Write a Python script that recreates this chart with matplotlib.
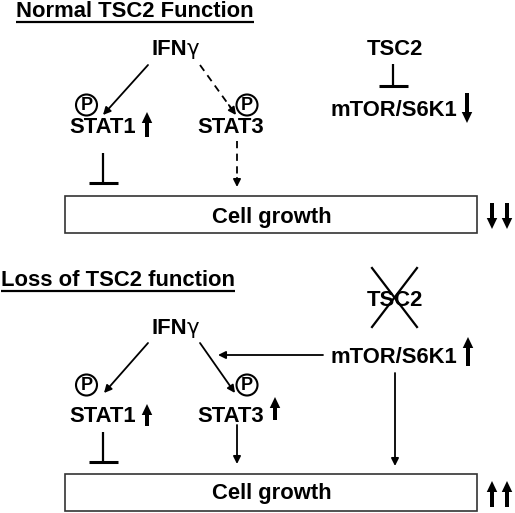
import matplotlib
matplotlib.use("Agg")
import matplotlib.pyplot as plt
from matplotlib.patches import Rectangle, Circle

# labels used in the diagram
section_titles = ["Normal TSC2 Function", "Loss of TSC2 function"]
stat_labels = ["STAT1", "STAT3"]
ligand = "IFN"
kinase = "mTOR/S6K1"
suppressor = "TSC2"
outcome = "Cell growth"
# +1 = up, -1 = down, 0 = none
top_changes = {"STAT1": 1, "STAT3": 0, "mTOR": -1, "growth": -1}
bottom_changes = {"STAT1": 1, "STAT3": 1, "mTOR": 1, "growth": 1}

FONT = "Liberation Sans"
FS = 15.8

fig = plt.figure(figsize=(5.15, 5.13), dpi=100)
ax = fig.add_axes([0, 0, 1, 1])
ax.set_xlim(0, 515)
ax.set_ylim(513, 0)
ax.axis("off")


def label(x, y, s, ha="center", size=FS, weight="bold"):
    ax.text(x, y, s, ha=ha, va="baseline", fontsize=size,
            fontweight=weight, family=FONT, color="black")


def thin_arrow(x0, y0, x1, y1, dashed=False):
    if dashed:
        # dashed shaft, solid head
        ax.plot([x0, x1 - (x1 - x0) * 0.12], [y0, y1 - (y1 - y0) * 0.12],
                color="black", lw=1.3, ls=(0, (4, 3)))
        xs = x1 - (x1 - x0) * 0.2
        ys = y1 - (y1 - y0) * 0.2
        ax.annotate("", xy=(x1, y1), xytext=(xs, ys),
                    arrowprops=dict(arrowstyle="-|>", color="black", lw=1.3,
                                    mutation_scale=11, shrinkA=0, shrinkB=0))
    else:
        ax.annotate("", xy=(x1, y1), xytext=(x0, y0),
                    arrowprops=dict(arrowstyle="-|>", color="black", lw=1.3,
                                    mutation_scale=11, shrinkA=0, shrinkB=0))


def thick_arrow(x, direction, y_top, y_bot):
    kw = dict(width=4.0, head_width=10.5, head_length=11,
              length_includes_head=True, color="black", lw=0)
    if direction > 0:
        ax.arrow(x, y_bot, 0, y_top - y_bot, **kw)
    elif direction < 0:
        ax.arrow(x, y_top, 0, y_bot - y_top, **kw)


def inhibit(x, y0, y1, half=14.5):
    ax.plot([x, x], [y0, y1], color="black", lw=1.6, solid_capstyle="butt")
    ax.plot([x - half, x + half], [y1, y1], color="black", lw=2.2,
            solid_capstyle="butt")


def phospho(x, y):
    ax.add_patch(Circle((x, y), 10.5, fill=False, ec="black", lw=1.5))
    ax.text(x, y + 0.5, "P", ha="center", va="center", fontsize=13,
            fontweight="bold", family=FONT)


def ifng(xc, y):
    ax.text(xc + 11, y, ligand, ha="right", va="baseline", fontsize=FS,
            fontweight="bold", family=FONT)
    ax.text(xc + 11, y, "γ", ha="left", va="baseline", fontsize=FS - 0.5,
            family="DejaVu Sans")


def title(x, y, s):
    t = ax.text(x, y, s, ha="left", va="baseline", fontsize=FS,
                fontweight="bold", family=FONT)
    fig.canvas.draw()
    bb = t.get_window_extent().transformed(ax.transData.inverted())
    ax.plot([bb.x0, bb.x1], [y + 5, y + 5], color="black", lw=1.6,
            solid_capstyle="butt")


def growth_box(y0, y1, y_text, change):
    ax.add_patch(Rectangle((65, y0), 412, y1 - y0, fill=False, ec="#333333",
                           lw=1.2))
    label(272, y_text, outcome)
    for xx in (492, 507):
        thick_arrow(xx, change, y0 + 7, y0 + 33)


# ---- Normal TSC2 function ----
title(16, 17, section_titles[0])
ifng(176, 55)
thin_arrow(148, 65, 103, 115)
thin_arrow(200, 65, 236, 115, dashed=True)
phospho(86.5, 105)
phospho(247, 105)
label(103, 133, stat_labels[0])
label(231, 133, stat_labels[1])
thick_arrow(147, top_changes["STAT1"], 112, 137)
inhibit(103, 153, 183)
thin_arrow(237, 141, 237, 187, dashed=True)
label(395, 55, suppressor)
inhibit(393, 64, 86)
label(393.5, 116, kinase)
thick_arrow(467, top_changes["mTOR"], 93, 123)
growth_box(196, 233, 223, top_changes["growth"])

# ---- Loss of TSC2 function ----
title(1, 286, section_titles[1])
ifng(176, 334)
thin_arrow(148, 343, 104, 393)
thin_arrow(200, 343, 235, 393)
phospho(86.5, 385)
phospho(247, 385)
label(103, 422, stat_labels[0])
label(231, 422, stat_labels[1])
thick_arrow(147, bottom_changes["STAT1"], 404, 426)
thick_arrow(275, bottom_changes["STAT3"], 397, 420)
inhibit(103, 432, 462)
thin_arrow(237, 425, 237, 464)
label(395, 306, suppressor)
ax.plot([372, 417], [268, 327], color="black", lw=1.6)
ax.plot([417, 372], [268, 327], color="black", lw=1.6)
label(393.5, 363, kinase)
thick_arrow(468, bottom_changes["mTOR"], 337, 366)
thin_arrow(323, 355, 218, 355)
thin_arrow(395, 373, 395, 466)
growth_box(474, 511, 499, bottom_changes["growth"])

fig.savefig("out.png", dpi=100)
